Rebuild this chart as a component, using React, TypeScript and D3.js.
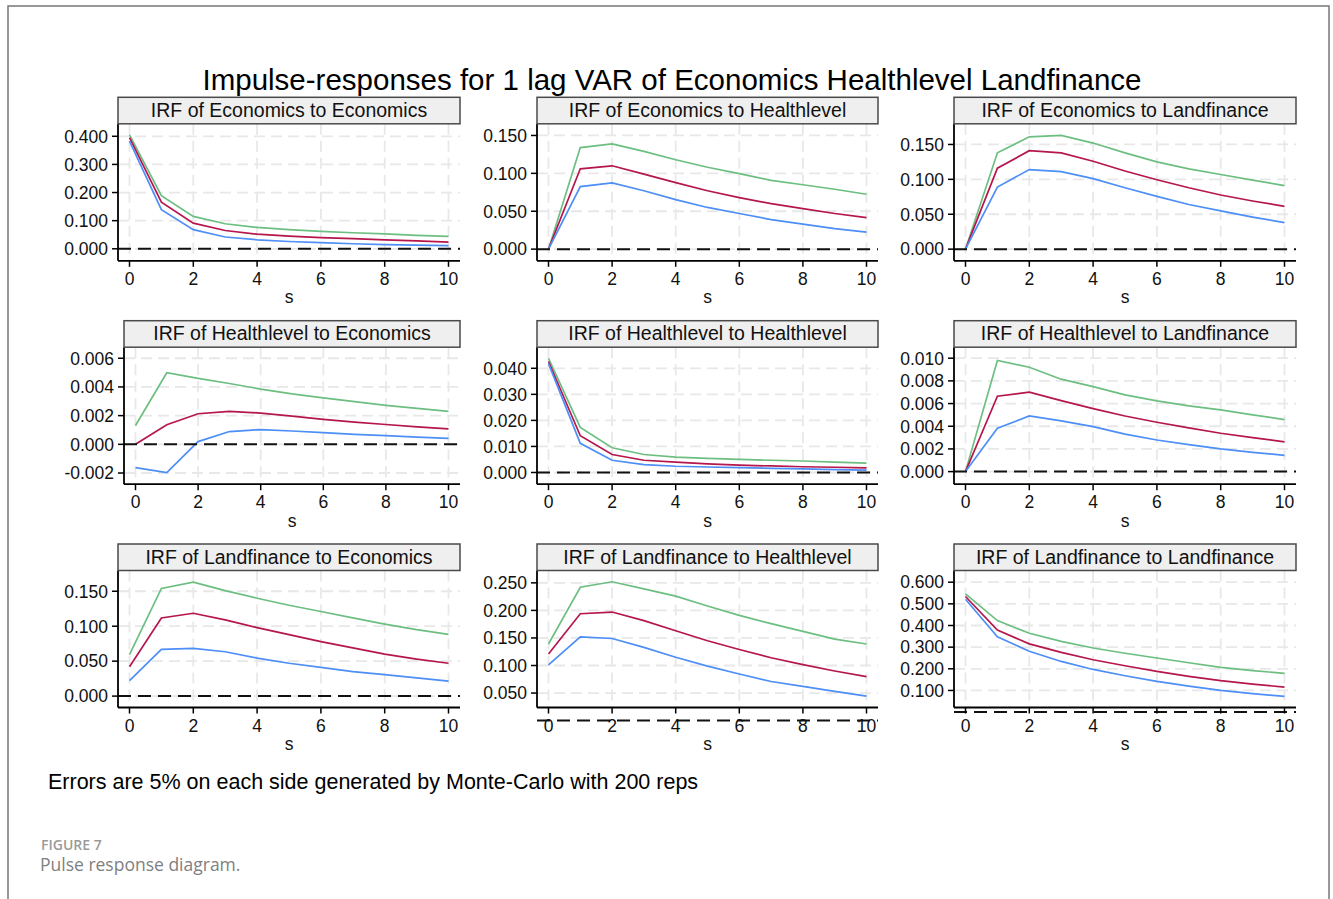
import React from 'react'
import * as d3 from 'd3'

// steps (s)
const steps = [0, 1, 2, 3, 4, 5, 6, 7, 8, 9, 10]
const xTicks = [0, 2, 4, 6, 8, 10]

const chartTitle = 'Impulse-responses for 1 lag VAR of Economics Healthlevel Landfinance'
const footNote = 'Errors are 5% on each side generated by Monte-Carlo with 200 reps'

const panelTitles = [
  'IRF of Economics to Economics',
  'IRF of Economics to Healthlevel',
  'IRF of Economics to Landfinance',
  'IRF of Healthlevel to Economics',
  'IRF of Healthlevel to Healthlevel',
  'IRF of Healthlevel to Landfinance',
  'IRF of Landfinance to Economics',
  'IRF of Landfinance to Healthlevel',
  'IRF of Landfinance to Landfinance',
]

const yTicks = [
  [0, 0.1, 0.2, 0.3, 0.4],
  [0, 0.05, 0.1, 0.15],
  [0, 0.05, 0.1, 0.15],
  [-0.002, 0, 0.002, 0.004, 0.006],
  [0, 0.01, 0.02, 0.03, 0.04],
  [0, 0.002, 0.004, 0.006, 0.008, 0.01],
  [0, 0.05, 0.1, 0.15],
  [0.05, 0.1, 0.15, 0.2, 0.25],
  [0.1, 0.2, 0.3, 0.4, 0.5, 0.6],
]

const yDomains = [
  [-0.0427, 0.4444],
  [-0.0154, 0.1654],
  [-0.0167, 0.1796],
  [-0.00278, 0.00677],
  [-0.0045, 0.0481],
  [-0.00111, 0.01097],
  [-0.0163, 0.1797],
  [0.0238, 0.2724],
  [0.0213, 0.654],
]

// upper band / irf / lower band for each panel
const hiEconEcon = [0.405, 0.189, 0.115, 0.089, 0.076, 0.068, 0.062, 0.057, 0.053, 0.048, 0.044]
const irfEconEcon = [0.395, 0.166, 0.091, 0.065, 0.052, 0.045, 0.040, 0.036, 0.032, 0.028, 0.024]
const loEconEcon = [0.383, 0.139, 0.068, 0.042, 0.032, 0.026, 0.022, 0.018, 0.015, 0.013, 0.011]

const hiEconHealth = [0, 0.134, 0.139, 0.129, 0.118, 0.108, 0.0996, 0.0908, 0.085, 0.079, 0.0724]
const irfEconHealth = [0, 0.106, 0.110, 0.099, 0.0877, 0.077, 0.068, 0.060, 0.0535, 0.047, 0.0417]
const loEconHealth = [0, 0.0825, 0.0873, 0.077, 0.0654, 0.055, 0.047, 0.039, 0.033, 0.027, 0.0224]

const hiEconLand = [0, 0.138, 0.161, 0.163, 0.152, 0.138, 0.125, 0.115, 0.107, 0.099, 0.091]
const irfEconLand = [0, 0.116, 0.141, 0.138, 0.126, 0.112, 0.0995, 0.088, 0.0776, 0.069, 0.0614]
const loEconLand = [0, 0.089, 0.114, 0.111, 0.101, 0.088, 0.0757, 0.064, 0.0548, 0.046, 0.038]

const hiHealthEcon = [0.00131, 0.00499, 0.0046, 0.00424, 0.00385, 0.00352, 0.00324, 0.00297, 0.00272, 0.0025, 0.0023]
const irfHealthEcon = [0, 0.00136, 0.00213, 0.0023, 0.00218, 0.00196, 0.00174, 0.00155, 0.00138, 0.00122, 0.00108]
const loHealthEcon = [-0.00162, -0.00197, 0.00019, 0.00089, 0.00103, 0.00093, 0.00082, 0.0007, 0.00061, 0.0005, 0.00042]

const hiHealthHealth = [0.0438, 0.0173, 0.0095, 0.0069, 0.0059, 0.0054, 0.005, 0.0047, 0.0044, 0.004, 0.0036]
const irfHealthHealth = [0.0426, 0.0141, 0.0069, 0.0047, 0.004, 0.0033, 0.0028, 0.0025, 0.0022, 0.002, 0.0018]
const loHealthHealth = [0.0418, 0.0112, 0.0047, 0.003, 0.0024, 0.0021, 0.0019, 0.0016, 0.0014, 0.0011, 0.0009]

const hiHealthLand = [0, 0.0098, 0.0092, 0.00815, 0.0075, 0.00676, 0.00624, 0.0058, 0.00544, 0.005, 0.00459]
const irfHealthLand = [0, 0.00665, 0.007, 0.00626, 0.00556, 0.0049, 0.00435, 0.00385, 0.00338, 0.003, 0.00262]
const loHealthLand = [0, 0.00382, 0.00491, 0.00447, 0.00397, 0.0033, 0.00279, 0.00238, 0.002, 0.0017, 0.00144]

const hiLandEcon = [0.0592, 0.154, 0.163, 0.151, 0.14, 0.13, 0.121, 0.112, 0.103, 0.095, 0.0884]
const irfLandEcon = [0.042, 0.1118, 0.1185, 0.109, 0.098, 0.088, 0.078, 0.069, 0.06, 0.053, 0.047]
const loLandEcon = [0.022, 0.0669, 0.0683, 0.0635, 0.0544, 0.047, 0.041, 0.035, 0.0306, 0.026, 0.0215]

const hiLandHealth = [0.139, 0.242, 0.252, 0.239, 0.226, 0.208, 0.191, 0.176, 0.162, 0.148, 0.139]
const irfLandHealth = [0.121, 0.194, 0.197, 0.1815, 0.163, 0.145, 0.129, 0.114, 0.1015, 0.09, 0.0797]
const loLandHealth = [0.101, 0.152, 0.149, 0.133, 0.115, 0.099, 0.0845, 0.071, 0.062, 0.053, 0.0445]

const hiLandLand = [0.546, 0.4225, 0.364, 0.327, 0.296, 0.272, 0.25, 0.228, 0.2065, 0.192, 0.179]
const irfLandLand = [0.534, 0.379, 0.315, 0.276, 0.242, 0.214, 0.188, 0.165, 0.145, 0.129, 0.1157]
const loLandLand = [0.521, 0.348, 0.281, 0.234, 0.197, 0.168, 0.142, 0.12, 0.1, 0.085, 0.0723]

const panelSeries = [
  [hiEconEcon, irfEconEcon, loEconEcon],
  [hiEconHealth, irfEconHealth, loEconHealth],
  [hiEconLand, irfEconLand, loEconLand],
  [hiHealthEcon, irfHealthEcon, loHealthEcon],
  [hiHealthHealth, irfHealthHealth, loHealthHealth],
  [hiHealthLand, irfHealthLand, loHealthLand],
  [hiLandEcon, irfLandEcon, loLandEcon],
  [hiLandHealth, irfLandHealth, loLandHealth],
  [hiLandLand, irfLandLand, loLandLand],
]

const seriesColors = ['#6cbf80', '#b5164d', '#4d8ef7']

const FONT = "'Liberation Sans', Arial, sans-serif"
const colLeft = [118, 537, 954]
const colRight = [460, 878, 1296]
const rowTop = [97.3, 320.7, 544]
const headerH = 26.5
const plotH = 137

const fmt = (t) => d3.format('.3f')(t).replace('\u2212', '-')

const Panel = ({ i }) => {
  const r = Math.floor(i / 3)
  const c = i % 3
  const left = colLeft[c] + (i === 3 ? 6 : 0)
  const right = colRight[c]
  const top = rowTop[r] + headerH
  const bottom = top + plotH

  const x = d3.scaleLinear().domain([0, 10]).range([left + 11.5, right - 11.5])
  const y = d3.scaleLinear().domain(yDomains[i]).range([bottom, top])
  const line = d3
    .line<number>()
    .x((d, k) => x(steps[k]))
    .y((d) => y(d))

  return (
    <g>
      {/* grid */}
      {yTicks[i].map((t) => (
        <line key={'gy' + t} x1={left} x2={right} y1={y(t)} y2={y(t)}
          stroke="#e8e8e8" strokeWidth={1.8} strokeDasharray="11 6" />
      ))}
      {xTicks.map((t) => (
        <line key={'gx' + t} x1={x(t)} x2={x(t)} y1={top} y2={bottom}
          stroke="#e8e8e8" strokeWidth={1.8} strokeDasharray="11 6" />
      ))}
      {/* series */}
      {panelSeries[i].map((s, k) => (
        <path key={k} d={line(s)} fill="none" stroke={seriesColors[k]} strokeWidth={1.7} />
      ))}
      {/* zero line */}
      <line x1={left} x2={right} y1={y(0)} y2={y(0)} stroke="#111" strokeWidth={2} strokeDasharray="13 7" />
      {/* axes */}
      <line x1={left} x2={left} y1={top} y2={bottom} stroke="#000" strokeWidth={1.8} />
      <line x1={left} x2={right} y1={bottom} y2={bottom} stroke="#000" strokeWidth={1.8} />
      {yTicks[i].map((t) => (
        <g key={'ty' + t}>
          <line x1={left - 6} x2={left} y1={y(t)} y2={y(t)} stroke="#000" strokeWidth={1.5} />
          <text x={left - 10} y={y(t)} dy="0.36em" textAnchor="end" fontSize={17.5} fontFamily={FONT} fill="#111">
            {fmt(t)}
          </text>
        </g>
      ))}
      {xTicks.map((t) => (
        <g key={'tx' + t}>
          <line x1={x(t)} x2={x(t)} y1={bottom} y2={bottom + 6} stroke="#000" strokeWidth={1.5} />
          <text x={x(t)} y={bottom + 24} textAnchor="middle" fontSize={17.5} fontFamily={FONT} fill="#111">
            {t}
          </text>
        </g>
      ))}
      <text x={(left + right) / 2} y={bottom + 42.5} textAnchor="middle" fontSize={17.5} fontFamily={FONT} fill="#111">
        s
      </text>
      {/* header */}
      <rect x={left} y={rowTop[r]} width={right - left} height={headerH} fill="#efefef" stroke="#4a4a4a" strokeWidth={1.5} />
      <text x={(left + right) / 2} y={rowTop[r] + 19.5} textAnchor="middle" fontSize={19.5} fontFamily={FONT} fill="#111">
        {panelTitles[i]}
      </text>
    </g>
  )
}

export default function App() {
  return (
    <svg width={1333} height={899} style={{ position: 'absolute', left: 0, top: 0, background: '#fff' }}>
      <rect x={8} y={6} width={1321} height={920} fill="#fff" stroke="#777" strokeWidth={1.5} />
      <text x={672} y={89.5} textAnchor="middle" fontSize={29.5} fontFamily={FONT} fill="#000">
        {chartTitle}
      </text>
      {panelTitles.map((_, i) => (
        <Panel key={i} i={i} />
      ))}
      <text x={48} y={788.5} fontSize={21.5} fontFamily={FONT} fill="#000">
        {footNote}
      </text>
      <text x={41} y={850} fontSize={14} fontFamily="'Open Sans', sans-serif" fontWeight={600} fill="#9a9a9a">
        FIGURE 7
      </text>
      <text x={40} y={870.5} fontSize={17.5} fontFamily="'Open Sans', sans-serif" fill="#808080">
        Pulse response diagram.
      </text>
    </svg>
  )
}
